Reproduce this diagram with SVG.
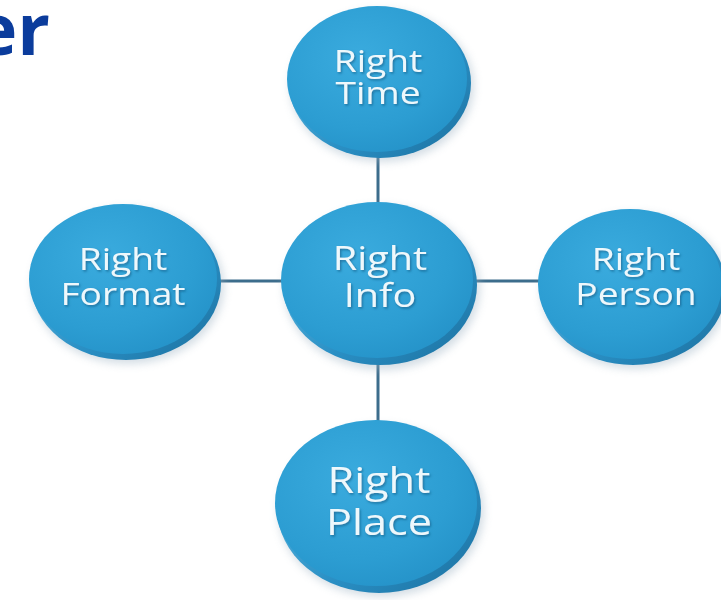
<svg xmlns="http://www.w3.org/2000/svg" width="721" height="600" viewBox="0 0 721 600">
<defs>
<radialGradient id="face" cx="0.4" cy="0.35" r="0.7">
<stop offset="0" stop-color="#3aabde"/>
<stop offset="0.7" stop-color="#2c9dd2"/>
<stop offset="1" stop-color="#2593c9"/>
</radialGradient>
<linearGradient id="rim" x1="0" y1="0" x2="1" y2="1">
<stop offset="0" stop-color="#6cc6ec"/>
<stop offset="0.6" stop-color="#2a8fc4"/>
<stop offset="1" stop-color="#1b6f9e"/>
</linearGradient>
<filter id="blur" x="-20%" y="-20%" width="140%" height="140%">
<feGaussianBlur stdDeviation="4"/>
</filter>
<filter id="tsh" x="-10%" y="-10%" width="120%" height="130%">
<feDropShadow dx="1" dy="1.5" stdDeviation="0.8" flood-color="#0d4f77" flood-opacity="0.6"/>
</filter>
</defs>
<style>
.shadow{fill:#9fb4c4;opacity:0.45;filter:url(#blur)}
.rim{fill:url(#rim)}
.face{fill:url(#face)}
.lbl{font-family:"Open Sans","DejaVu Sans",sans-serif;font-weight:500;fill:#eef8fc;text-anchor:middle;filter:url(#tsh)}
.conn line{stroke:#3c6d8c;stroke-width:3}
</style>
<text x="50" y="55" font-family="'Open Sans','DejaVu Sans',sans-serif" font-weight="bold" font-size="72" fill="#0b3c9c" text-anchor="end">er</text>
<g class="conn">
<line x1="378" y1="150" x2="378" y2="210"/>
<line x1="210" y1="281" x2="290" y2="281"/>
<line x1="468" y1="281" x2="548" y2="281"/>
<line x1="378" y1="355" x2="378" y2="425"/>
</g>
<g id="time">
<ellipse class="shadow" cx="382" cy="86" rx="92" ry="76"/>
<ellipse class="rim" cx="380" cy="83" rx="91" ry="75"/>
<ellipse class="face" cx="377" cy="79" rx="90" ry="73"/>
<text class="lbl" font-size="31" transform="translate(378,72) scale(1.2,1)"><tspan x="0" y="0">Right</tspan><tspan x="0" y="32">Time</tspan></text>
</g>
<g id="format">
<ellipse class="shadow" cx="128" cy="286" rx="96" ry="78"/>
<ellipse class="rim" cx="126" cy="283" rx="95" ry="77"/>
<ellipse class="face" cx="123" cy="279" rx="94" ry="75"/>
<text class="lbl" font-size="31" transform="translate(123,270) scale(1.2,1)"><tspan x="0" y="0">Right</tspan><tspan x="0" y="35">Format</tspan></text>
</g>
<g id="info">
<ellipse class="shadow" cx="382" cy="288" rx="98" ry="82"/>
<ellipse class="rim" cx="380" cy="285" rx="97" ry="80"/>
<ellipse class="face" cx="377" cy="280" rx="96" ry="78"/>
<text class="lbl" font-size="33" transform="translate(380,270) scale(1.2,1)"><tspan x="0" y="0">Right</tspan><tspan x="0" y="37">Info</tspan></text>
</g>
<g id="person">
<ellipse class="shadow" cx="635" cy="291" rx="94" ry="78"/>
<ellipse class="rim" cx="633" cy="288" rx="93" ry="77"/>
<ellipse class="face" cx="630" cy="284" rx="92" ry="75"/>
<text class="lbl" font-size="31" transform="translate(636,270) scale(1.2,1)"><tspan x="0" y="0">Right</tspan><tspan x="0" y="35">Person</tspan></text>
</g>
<g id="place">
<ellipse class="shadow" cx="381" cy="511" rx="103" ry="86"/>
<ellipse class="rim" cx="379" cy="508" rx="102" ry="85"/>
<ellipse class="face" cx="376" cy="503" rx="101" ry="83"/>
<text class="lbl" font-size="36" transform="translate(379,493) scale(1.2,1)"><tspan x="0" y="0">Right</tspan><tspan x="0" y="42">Place</tspan></text>
</g>
</svg>
